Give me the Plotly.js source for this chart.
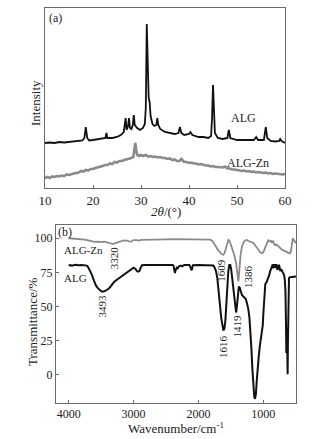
<!DOCTYPE html>
<html>
<head>
<meta charset="utf-8">
<script src="https://cdn.plot.ly/plotly-3.0.1.min.js"></script>
<style>html,body{margin:0;padding:0;background:#fff;}#chart{width:318px;height:439px;}</style>
</head>
<body>
<div id="chart"></div>
<script>
// ---------- XRD (a) ----------
var xrdTheta = [10,11,12,13,14,15,16,17,17.8,18.2,18.5,18.8,19.2,20,21,22,22.6,22.8,23,24,25,25.8,26.4,26.8,27.0,27.3,27.5,27.7,28.0,28.3,28.5,28.7,29.2,29.8,30.4,30.8,31.0,31.2,31.4,31.6,31.8,32.0,32.4,32.8,33.2,33.4,33.6,34,35,36,37,37.8,38.1,38.4,39,40,40.3,40.7,42,43,44,44.6,44.8,45.0,45.2,45.4,46,47,48,48.3,48.6,50,52,53.5,54,54.4,55.6,56,56.3,57,58,58.8,59,59.3,60];
var xrdALG = [45,45.5,45,46,45.5,46,46.5,47,47.5,50,61,50,47.5,48,48.5,49,50,55,50,50,51,53,56,70,58,62,70,60,59,63,73,63,60,58,60,64,80,164,120,90,86,72,64,62,63,70,63,59,56,55,54,55,61,55,53,54,56,53,51,51,50,52,70,103,75,55,50,49,50,58,50,48,48,48,51,48,48,61,50,47,46.5,47,49,47,45];
var xrdThetaZn = [10,10.5,11,11.5,12,12.5,13,13.5,14,14.5,15,15.5,16,16.5,17,17.5,18,18.5,19,19.5,20,20.5,21,21.5,22,22.5,23,23.5,24,24.5,25,25.5,26,26.5,27,27.5,28,28.4,28.6,28.8,29.0,29.2,29.6,30,30.5,31,31.5,32,32.5,33,33.5,34,34.5,35,35.5,36,36.5,37,37.5,38,38.4,38.8,39,39.5,40,40.5,41,41.5,42,42.5,43,43.5,44,44.5,45,45.5,46,46.5,47,47.5,48,48.5,49,49.5,50,50.5,51,51.5,52,52.5,53,53.5,54,54.5,55,55.5,56,56.5,57,57.5,58,58.5,59,59.5,60];
var xrdALGZn = [10,11,10,11.5,11,12,11.5,12.5,12,13.5,13,14,14.5,15,15.5,17,16.5,18,17.5,19,19,20,20.5,21.5,22,23,23,24.5,24,26,25.5,27,27,28,28.5,29.5,30,31,38,45,38,33,32,33,32,33,31.5,32,31,31.5,30.5,31,30,30,29,29.5,28,28.5,27,27,29,26.5,26,26,25,25.5,24.5,24.5,23.5,24,23,22.5,22.5,21.5,22,21,21,20.5,20.5,21.5,19.5,19.5,18.5,18.5,18,18,17,17.5,16.5,17,16,16.5,15.5,16,15.5,15,15.5,14.5,15,14,14.5,14,14,13.5,14];
var xrdTicks = [10,20,30,40,50,60];

// ---------- FTIR (b) ----------
var ftirWnALG = [4000,3950,3900,3850,3800,3750,3720,3700,3670,3640,3610,3580,3550,3520,3493,3460,3430,3400,3365,3330,3300,3262,3220,3160,3100,3060,3030,3000,2970,2950,2930,2910,2890,2870,2820,2700,2600,2500,2400,2385,2370,2362,2350,2335,2320,2300,2270,2250,2220,2140,2125,2115,2105,2095,2085,2000,1900,1800,1770,1750,1730,1710,1690,1670,1650,1635,1616,1600,1585,1570,1555,1540,1525,1510,1495,1480,1465,1450,1435,1420,1410,1400,1390,1378,1365,1350,1330,1300,1270,1250,1231,1215,1200,1185,1170,1155,1140,1128,1115,1100,1085,1070,1055,1040,1025,1010,1000,990,980,970,950,930,910,897,880,865,855,848,840,830,820,810,800,790,780,770,760,750,740,730,720,710,700,690,680,670,660,652,646,641,636,632,626,621,617,612,605,590,560,530,497];
var ftirALG = [80.5,80,80.6,80.2,80.5,80.3,80,79,76.5,73,69,65.5,63.5,62,61,61,61.5,62.5,64,66.5,68,69.5,71,73.2,75,76.5,78,78.5,77.5,76,75.6,76,78.5,80.3,80.5,80.5,80.6,80.5,80.5,80,75,74.5,77,78.5,78,79.5,80,79.5,80.5,80.5,79,76.5,76.5,78.5,80.3,80.5,80.5,80.5,80,78.5,76,71,63,52,42,36,32.5,34,40,52,66,76,80.5,80.5,77,70,62,55,49,45.7,49,56,62,64.6,64,62,58.5,57,55.5,52,48,42,33,20,5,-8,-16,-17.5,-14,-3,8,14,21,25,30.6,36,45,56,64,66.5,68,70,73,75.6,78,80,81,78,80.5,81,78.5,80.5,81,78,77,79.5,80.5,79,76,77,77,76,75,74,73,70,62,40,16,34,34,15,0.5,25,60,69,71,71.5,71.7,72,72];
var ftirWnZn = [4000,3950,3900,3850,3800,3750,3700,3650,3600,3550,3500,3450,3400,3360,3330,3310,3290,3250,3200,3150,3100,3060,3030,3000,2950,2920,2880,2800,2700,2600,2500,2400,2300,2200,2100,2000,1900,1850,1820,1790,1760,1730,1700,1670,1640,1615,1595,1575,1555,1538,1520,1500,1480,1460,1440,1420,1405,1395,1386,1378,1365,1350,1330,1300,1275,1256,1230,1200,1175,1154,1130,1100,1081,1050,1025,1005,990,974,955,935,923,910,895,880,871,860,850,835,820,800,780,760,743,720,700,680,660,640,620,600,590,575,560,548,535,520,510,497];
var ftirALGZn = [100,99.8,99.9,99.6,99.5,99,98.5,97.8,97.3,97.6,97.2,97.5,97,96.8,96,95.8,96.3,97,97.8,98.5,98.3,97.6,97.8,98.7,98.6,98.3,98.8,99,99.2,99.1,99.2,99.3,99.2,99.3,99.2,99.3,99.2,99,99,98.2,96.5,94,91.5,89.5,88.3,88,89.5,93,97,98.8,98,95.5,92,89.5,86,82,76,71,68.5,72,80,88,94,97.5,98.5,98.8,98,97.3,96.8,96.6,95,93,91.5,89.8,89,89.5,91,93,96,98.5,98.8,98,97.6,98,96.6,97.5,98.2,96,95,95.5,94.5,93.5,93,92,91.3,91,90.5,90,89.5,89,89,90.5,95,100,99,97.5,97,98];
var ftirTicksX = [1000,2000,3000,4000];
var ftirTicksY = [0,25,50,75,100];
var peakLabels = ['3320','3493','1609','1386','1616','1419'];

var W = 318, H = 439;
function px(x){return x/W;}
function py(y){return 1 - y/H;}
var FONT = 'Liberation Serif, Times New Roman, serif';
var frame = '#6a6a6a';

var traces = [
  {x: xrdTheta, y: xrdALG, xaxis:'x', yaxis:'y', mode:'lines', line:{color:'#111', width:1.8}, hoverinfo:'skip'},
  {x: xrdThetaZn, y: xrdALGZn, xaxis:'x', yaxis:'y', mode:'lines', line:{color:'#8a8a8a', width:2.6}, hoverinfo:'skip'},
  {x: ftirWnZn, y: ftirALGZn, xaxis:'x2', yaxis:'y2', mode:'lines', line:{color:'#8a8a8a', width:1.8}, hoverinfo:'skip'},
  {x: ftirWnALG, y: ftirALG, xaxis:'x2', yaxis:'y2', mode:'lines', line:{color:'#111', width:2.0}, hoverinfo:'skip'}
];

// peak label anchor positions (wavenumber, transmittance)
var peakPos = [[3299,85.4],[3492,50.5],[1657,76.8],[1246,71.9],[1631,20.8],[1406,35.4]];

function A(o){ o.showarrow = false; if(!o.xanchor) o.xanchor='center'; o.yanchor='middle'; return o; }
var ann = [];
peakLabels.forEach(function(t,i){
  ann.push(A({text:t, xref:'x2', yref:'y2', x:peakPos[i][0], y:peakPos[i][1], textangle:-90, font:{family:FONT,size:11,color:'#222'}}));
});
ann.push(A({text:'(a)', xref:'paper', yref:'paper', x:px(55), y:py(18), font:{family:FONT,size:12,color:'#222'}}));
ann.push(A({text:'(b)', xref:'paper', yref:'paper', x:px(65), y:py(231.5), font:{family:FONT,size:12,color:'#222'}}));
ann.push(A({text:'ALG', xref:'x', yref:'y', x:51.25, y:70, font:{family:FONT,size:12,color:'#222'}}));
ann.push(A({text:'ALG-Zn', xref:'x', yref:'y', x:52.3, y:25, font:{family:FONT,size:12,color:'#222'}}));
ann.push(A({text:'ALG-Zn', xref:'paper', yref:'paper', x:px(62), y:py(250), xanchor:'left', font:{family:FONT,size:11,color:'#222'}}));
ann.push(A({text:'ALG', xref:'paper', yref:'paper', x:px(62), y:py(277.7), xanchor:'left', font:{family:FONT,size:11,color:'#222'}}));
// axis titles
ann.push(A({text:'Intensity', xref:'paper', yref:'paper', x:px(35), y:py(103), textangle:-90, font:{family:FONT,size:13,color:'#222'}}));
ann.push(A({text:'<i>2θ</i>/(°)', xref:'paper', yref:'paper', x:px(166), y:py(211), font:{family:FONT,size:13,color:'#222'}}));
ann.push(A({text:'Transmittance/%', xref:'paper', yref:'paper', x:px(32), y:py(322), textangle:-90, font:{family:FONT,size:13,color:'#222'}}));
ann.push(A({text:'Wavenumber/cm<sup>-1</sup>', xref:'paper', yref:'paper', x:px(176), y:py(428), font:{family:FONT,size:13,color:'#222'}}));

var axCommon = {showline:true, mirror:true, linecolor:frame, linewidth:1, showgrid:false, zeroline:false, ticks:'inside', ticklen:3, tickcolor:frame, tickfont:{family:FONT,size:13,color:'#222'}};

var layout = {
  width:W, height:H, margin:{l:0,r:0,t:0,b:0,pad:0},
  paper_bgcolor:'#fff', plot_bgcolor:'#fff', showlegend:false,
  xaxis: Object.assign({}, axCommon, {domain:[px(45),px(285)], range:[10,60], tickvals:xrdTicks, anchor:'y'}),
  yaxis: Object.assign({}, axCommon, {domain:[py(188),py(8)], range:[0,180], ticks:'', showticklabels:false, anchor:'x'}),
  xaxis2: Object.assign({}, axCommon, {domain:[px(56),px(296)], range:[4195,497], tickvals:ftirTicksX, anchor:'y2', tickfont:{family:FONT,size:12,color:'#222'}}),
  yaxis2: Object.assign({}, axCommon, {domain:[py(403),py(225)], range:[-20.5,109.7], tickvals:ftirTicksY, anchor:'x2', tickfont:{family:FONT,size:12,color:'#222'}}),
  annotations: ann
};

Plotly.newPlot('chart', traces, layout, {staticPlot:true, displayModeBar:false});
</script>
</body>
</html>
